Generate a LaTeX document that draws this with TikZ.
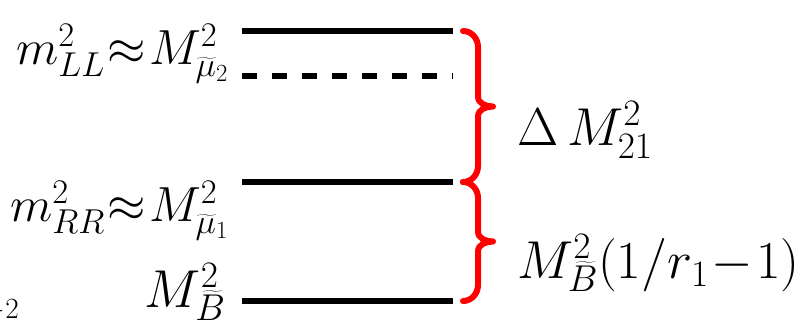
\RequirePackage{fix-cm}
\documentclass[tikz,border=0pt]{standalone}
\usetikzlibrary{calc}
\begin{document}
\begin{tikzpicture}[x=0.75pt,y=-0.75pt,
  level/.style={line width=5.2pt},
  dashlevel/.style={line width=5.2pt, dash pattern=on 11.25pt off 11.25pt},
  bracket/.style={red, line width=4.5pt, line cap=round, line join=round},
  lab/.style={inner sep=0pt, font=\fontsize{40}{48}\selectfont},
  leftlab/.style={inner sep=0pt, font=\fontsize{37}{44}\selectfont},
  smalllab/.style={inner sep=0pt, font=\fontsize{22}{26}\selectfont}]
\useasboundingbox (0,0) rectangle (803,326);

% energy levels
\coordinate (a1) at (242,31);  \coordinate (a2) at (453,31);
\coordinate (b1) at (242,76);  \coordinate (b2) at (453,76);
\coordinate (c1) at (242,182); \coordinate (c2) at (453,182);
\coordinate (d1) at (242,301); \coordinate (d2) at (453,301);
\draw[level] (a1) -- (a2);
\draw[dashlevel] (b1) -- (b2);
\draw[level] (c1) -- (c2);
\draw[level] (d1) -- (d2);

% braces on the right
\coordinate (t1) at (463,31);
\coordinate (t2) at (463,182);
\coordinate (t3) at (463,301);
\draw[bracket] (t1) to[out=0,in=90] ($(t1)+(15,16)$) -- ($(t1)!0.5!(t2)+(15,-10)$)
  to[out=-90,in=180] ($(t1)!0.5!(t2)+(30,0)$)
  to[out=180,in=90] ($(t1)!0.5!(t2)+(15,10)$) -- ($(t2)+(15,-16)$)
  to[out=-90,in=0] (t2);
\draw[bracket] (t2) to[out=0,in=90] ($(t2)+(15,16)$) -- ($(t2)!0.5!(t3)+(15,-10)$)
  to[out=-90,in=180] ($(t2)!0.5!(t3)+(30,0)$)
  to[out=180,in=90] ($(t2)!0.5!(t3)+(15,10)$) -- ($(t3)+(15,-16)$)
  to[out=-90,in=0] (t3);

% level labels
\node[leftlab, anchor=base east] (la) at (229,64)
  {$m^2_{LL}\mskip1mu{\approx}\mskip1mu M^2_{\widetilde{\mu}_2}$};
\node[leftlab, anchor=base east] (lc) at (229,221)
  {$m^2_{RR}\mskip1mu{\approx}\mskip1mu M^2_{\widetilde{\mu}_1}$};
\node[lab, anchor=base east] (ld) at (226,307)
  {$M^2_{\widetilde{B}}$};

% splitting labels
\node[lab, anchor=base west] (s1) at (517,145) {$\Delta\,M^2_{21}$};
\node[lab, anchor=base west] (s2) at (517,278)
  {$M^2_{\widetilde{B}}(1/r_1\!-\!1)$};

% fragment at the lower left
\node[smalllab, anchor=base east] (fr) at (19,318) {$-2$};
\end{tikzpicture}
\end{document}
